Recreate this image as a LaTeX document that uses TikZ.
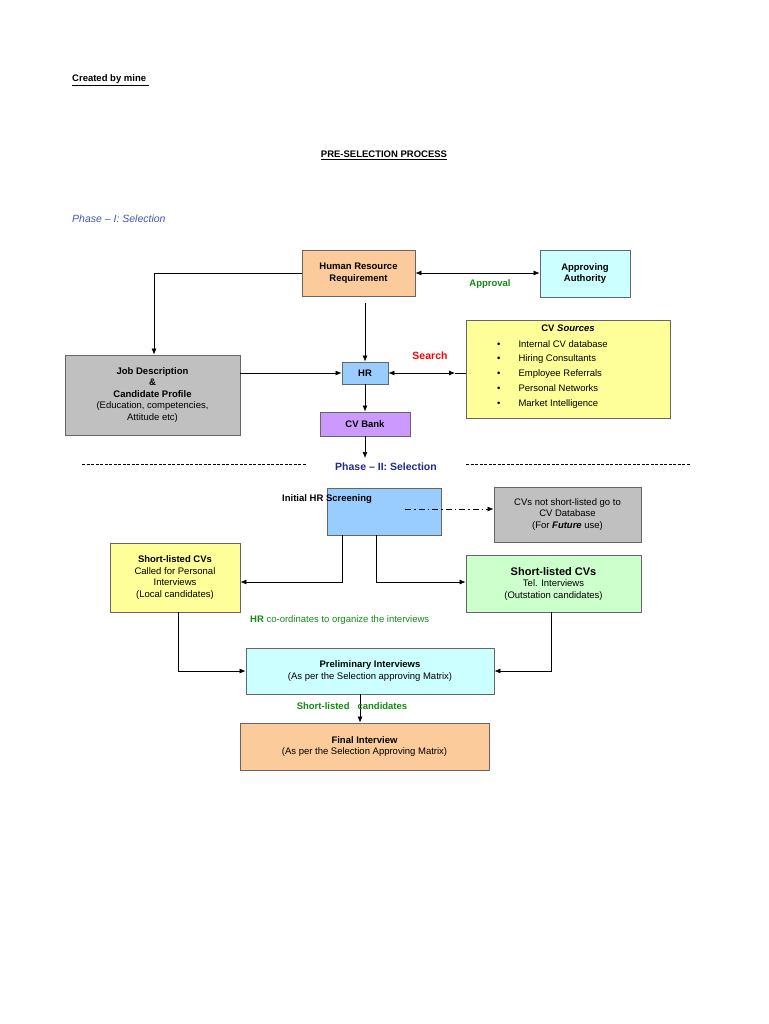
\documentclass[tikz,border=0pt]{standalone}
\usepackage{fontspec}
\setmainfont{Liberation Sans}
\usetikzlibrary{arrows.meta,calc}
\definecolor{orng}{HTML}{FBCB9B}
\definecolor{cyanb}{HTML}{CCFFFF}
\definecolor{grayb}{HTML}{C0C0C0}
\definecolor{blueb}{HTML}{99CCFF}
\definecolor{yelb}{HTML}{FFFF99}
\definecolor{purb}{HTML}{CC99FF}
\definecolor{grnb}{HTML}{CCFFCC}
\definecolor{dgreen}{HTML}{138A13}
\definecolor{phblue}{HTML}{1F2A8C}
\definecolor{phblue1}{HTML}{4455AA}
\tikzset{
  box/.style={draw=black!60, line width=0.8pt, align=center, inner sep=0pt, font=\fontsize{9.5}{11.5}\selectfont},
  arr/.style={-{Latex[length=6pt,width=5pt]}, line width=0.7pt},
  lbl/.style={inner sep=0pt, font=\fontsize{9.5}{11.5}\selectfont}
}
\newcommand{\bx}[6]{\node[box, fill=#2, minimum width={(#5-#3)*1pt}, minimum height={(#6-#4)*1pt}] (#1) at ({(#3+#5)/2},{(#4+#6)/2}) {};}
\begin{document}
\begin{tikzpicture}[x=1pt,y=-1pt]
\useasboundingbox (0,0) rectangle (768,1024);
\node[lbl, anchor=west] (cr) at (72,80) {\bfseries\underline{Created by mine\ }};
\node[lbl] (title) at (384,155) {\bfseries\underline{PRE-SELECTION PROCESS}};
\node[lbl, anchor=west, text=phblue1] (ph1) at (72,219) {\itshape\fontsize{10.5}{12}\selectfont Phase -- I: Selection};

\bx{hrr}{orng}{302}{250}{415}{296}
\node[lbl, align=center] at (hrr) {\bfseries Human Resource\\\bfseries Requirement};
\bx{aa}{cyanb}{540}{250}{630}{297}
\node[lbl, align=center] at (aa) {\bfseries Approving\\\bfseries Authority};
\node[lbl, text=dgreen] (appr) at (490,284) {\bfseries Approval};
\draw[arr, {Latex[length=6pt,width=5pt]}-{Latex[length=6pt,width=5pt]}] (hrr.east |- 0,273) -- (aa.west |- 0,273);

\bx{jd}{grayb}{65}{355}{240}{435}
\node[lbl, align=center] at (jd) {\bfseries Job Description\\\bfseries \&\\\bfseries Candidate Profile\\(Education, competencies,\\Attitude etc)};
\draw[arr] (hrr.west |- 0,273) -| (jd.north -| 154,0);

\bx{hr}{blueb}{342}{362}{388}{384}
\node[lbl] at (hr) {\bfseries HR};
\coordinate (hrtop) at (365,303);
\draw[arr] (hrtop) -- (hr.north);
\draw[arr] (jd.east |- hr) -- (hr.west);

\bx{cvs}{yelb}{466}{320}{670}{418}
\node[lbl, anchor=north] at (568,325) {\bfseries CV \itshape Sources};
\node[lbl, anchor=north west, align=left] at (497,340) {%
\textbullet\hspace{18pt}Internal CV database\\[3.3pt]
\textbullet\hspace{18pt}Hiring Consultants\\[3.3pt]
\textbullet\hspace{18pt}Employee Referrals\\[3.3pt]
\textbullet\hspace{18pt}Personal Networks\\[3.3pt]
\textbullet\hspace{18pt}Market Intelligence};
\coordinate (srch) at (455,373);
\draw[arr, {Latex[length=6pt,width=5pt]}-{Latex[length=6pt,width=5pt]}] (hr.east) -- (srch);
\draw[line width=0.7pt] (srch) -- (cvs.west |- srch);
\node[lbl, text=red] at (430,356) {\bfseries\fontsize{10.5}{12}\selectfont Search};

\bx{cvb}{purb}{320}{412}{410}{436}
\node[lbl] at (cvb) {\bfseries CV Bank};
\draw[arr] (hr.south) -- (cvb.north);
\coordinate (ph2top) at (365,458);
\draw[arr] (cvb.south) -- (ph2top);

\draw[line width=0.9pt, dash pattern=on 3pt off 1.5pt] (82,464) -- (306,464);
\draw[line width=0.9pt, dash pattern=on 3pt off 1.5pt] (466,464) -- (690,464);
\node[lbl, text=phblue] (ph2) at (386,467) {\bfseries\fontsize{10.5}{12}\selectfont Phase -- II: Selection};

\bx{ihs}{blueb}{327}{488}{441}{535}
\node[lbl, anchor=west] at (282,499) {\bfseries Initial HR Screening};
\bx{cvn}{grayb}{494}{487}{641}{542}
\node[lbl, align=center] at (cvn) {CVs not short-listed go to\\CV Database\\(For \textbf{\itshape Future} use)};
\coordinate (dd) at (405,509);
\draw[arr, dash pattern=on 6pt off 3pt on 1.5pt off 3pt] (dd) -- (cvn.west |- dd);

\bx{sll}{yelb}{110}{543}{240}{612}
\node[lbl, align=center] at (sll) {\bfseries Short-listed CVs\\Called for Personal\\Interviews\\(Local candidates)};
\bx{slr}{grnb}{466}{555}{641}{612}
\node[lbl, align=center] at (slr) {\bfseries\fontsize{11}{13}\selectfont Short-listed CVs\\Tel. Interviews\\(Outstation candidates)};
\draw[arr] (ihs.south -| 342,0) |- (sll.east |- 0,582);
\draw[arr] (ihs.south -| 376,0) |- (slr.west |- 0,582);
\node[lbl, anchor=west, text=dgreen] at (250,620) {\textbf{HR} co-ordinates to organize the interviews};

\bx{pi}{cyanb}{246}{648}{494}{694}
\node[lbl, align=center] at (pi) {\bfseries Preliminary Interviews\\(As per the Selection approving Matrix)};
\draw[arr] (sll.south -| 178,0) |- (pi.west);
\draw[arr] (slr.south -| 551,0) |- (pi.east);

\bx{fi}{orng}{240}{723}{489}{770}
\node[lbl, align=center] at (fi) {\bfseries Final Interview\\(As per the Selection Approving Matrix)};
\draw[arr] (pi.south -| 360,0) -- (fi.north -| 360,0);
\node[lbl, text=dgreen] at (352,706) {\bfseries Short-listed\hspace{8pt}candidates};
\end{tikzpicture}
\end{document}
